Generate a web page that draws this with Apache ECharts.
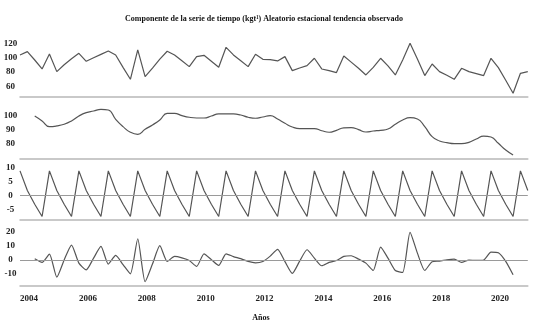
<!DOCTYPE html>
<html>
<head>
<meta charset="utf-8">
<script src="https://cdn.jsdelivr.net/npm/echarts@6/dist/echarts.min.js"></script>
<style>
html,body{margin:0;padding:0;background:#fff;}
#c{width:547px;height:322px;}
</style>
</head>
<body>
<div id="c"></div>
<script>
const startYear = 2004;
const yearTicks = [2004, 2006, 2008, 2010, 2012, 2014, 2016, 2018, 2020];
const observed = [103.8,108.4,96.8,84.4,105.2,80.7,90.2,98.5,106.1,95.0,99.9,104.6,109.3,103.8,86.6,70.1,110.7,73.8,85.7,98.1,108.9,103.8,95.7,87.6,101.5,103.3,95.0,86.7,114.4,103.8,95.7,87.6,104.7,97.8,97.3,95.5,101.5,82.1,85.8,89.0,99.2,84.4,82.1,79.4,102.4,93.9,85.4,76.1,86.7,99.2,88.6,76.1,96.9,119.9,98.1,75.2,91.3,80.7,75.7,70.1,85.3,80.7,78.0,75.2,99.2,86.3,68.7,50.8,78.4,80.7];
const trend = [null,null,99.5,96.0,91.9,92.4,93.6,96.0,99.5,101.9,103.1,104.3,103.8,97.1,91.9,87.9,86.4,90.0,93.1,96.7,101.4,101.4,99.8,98.6,98.1,98.1,99.5,101.0,101.0,101.0,100.2,98.6,97.9,98.8,99.8,97.4,94.3,91.7,90.5,90.5,90.5,89.0,87.9,89.3,91.0,91.2,89.8,88.1,88.8,89.3,90.2,93.6,96.7,98.3,97.4,91.9,84.8,81.7,80.5,79.8,79.8,80.7,83.1,85.2,84.5,80.0,75.2,71.7,null,null];
const seasonal = [8.8,1.8,-3.1,-7.5,8.8,1.8,-3.1,-7.5,8.8,1.8,-3.1,-7.5,8.8,1.8,-3.1,-7.5,8.8,1.8,-3.1,-7.5,8.8,1.8,-3.1,-7.5,8.8,1.8,-3.1,-7.5,8.8,1.8,-3.1,-7.5,8.8,1.8,-3.1,-7.5,8.8,1.8,-3.1,-7.5,8.8,1.8,-3.1,-7.5,8.8,1.8,-3.1,-7.5,8.8,1.8,-3.1,-7.5,8.8,1.8,-3.1,-7.5,8.8,1.8,-3.1,-7.5,8.8,1.8,-3.1,-7.5,8.8,1.8,-3.1,-7.5,8.8,1.8];
const random = [null,null,0.7,-1.9,4.1,-12.5,-0.1,10.6,-2.4,-7.2,1.2,9.6,-3.1,3.1,-3.5,-10.1,15.1,-15.8,-3.1,10.1,-1.2,2.4,1.4,-0.5,-4.8,4.3,0.1,-4.1,4.3,2.3,0.8,-1.2,-2.2,-1.2,2.6,7.5,-1.3,-9.8,-1.0,7.2,1.2,-4.3,-1.9,-0.5,2.4,2.9,0.5,-2.4,-7.7,9.1,1.2,-7.7,-9.1,19.7,4.8,-7.7,-1.4,-1.0,0.0,0.5,-1.9,-0.2,-0.5,-0.2,5.5,5.0,-1.2,-10.8,null,null];
const ticks1 = [60, 80, 100, 120];
const ticks2 = [80, 90, 100];
const ticks3 = [-5, 0, 5, 10];
const ticks4 = [-10, 0, 10, 20];
const titleText = 'Componente de la serie de tiempo (kgt\u00B9) Aleatorio estacional tendencia observado';
const xName = 'Años';

const toXY = arr => arr.map((v, i) => [startYear + i / 4, v]);
const font = 'Liberation Serif';
const lineColor = '#555';
const axisGray = '#b8b8b8';

const grids = [
  {top: 28.8, height: 67.9},
  {top: 96.7, height: 61.6},
  {top: 158.3, height: 61.0},
  {top: 219.3, height: 66.2}
].map(g => ({left: 20, width: 507.8, top: g.top, height: g.height}));

const yRanges = [[46, 140], [69.3, 113.3], [-8.5, 13.3], [-18.5, 29.1]];
const yTicks = [ticks1, ticks2, ticks3, ticks4];

const xAxes = grids.map((g, k) => ({
  type: 'value', gridIndex: k, min: startYear, max: startYear + 69 / 4,
  axisLine: {show: true, onZero: false, lineStyle: {color: axisGray, width: 1.5}},
  axisTick: {show: false}, splitLine: {show: false},
  axisLabel: k === 3 ? {
    show: true, customValues: yearTicks, formatter: v => String(v), align: 'left',
    fontFamily: font, fontWeight: 'bold', fontSize: 9, color: '#222', margin: 9
  } : {show: false}
}));

const yAxes = grids.map((g, k) => ({
  type: 'value', gridIndex: k, min: yRanges[k][0], max: yRanges[k][1],
  axisLine: {show: false}, axisTick: {show: false}, splitLine: {show: false},
  axisLabel: {show: true, customValues: yTicks[k], formatter: v => String(v), align: 'center',
    fontFamily: font, fontWeight: 'bold', fontSize: 9, color: '#222', margin: 9.5}
}));

const zeroLine = {silent: true, symbol: 'none', label: {show: false},
  lineStyle: {color: '#9a9a9a', width: 1, type: 'solid'}, data: [{yAxis: 0}]};

const mk = (data, k, smooth, extra) => Object.assign({
  type: 'line', xAxisIndex: k, yAxisIndex: k, data: toXY(data), showSymbol: false,
  smooth: smooth, connectNulls: false, lineStyle: {color: lineColor, width: 1.2},
  itemStyle: {color: lineColor}, animation: false
}, extra || {});

const chart = echarts.init(document.getElementById('c'), null, {renderer: 'canvas'});
chart.setOption({
  backgroundColor: '#fff',
  animation: false,
  title: [
    {text: titleText, left: 259, top: 10, textAlign: 'center',
      textStyle: {fontFamily: font, fontWeight: 'bold', fontSize: 8, color: '#111'}},
    {text: xName, left: 256, top: 309, textAlign: 'center',
      textStyle: {fontFamily: font, fontWeight: 'bold', fontSize: 8, color: '#111'}}
  ],
  grid: grids,
  xAxis: xAxes,
  yAxis: yAxes,
  series: [
    mk(observed, 0, false),
    mk(trend, 1, 0.5),
    mk(seasonal, 2, false, {markLine: zeroLine}),
    mk(random, 3, 0.2, {markLine: zeroLine})
  ]
});
</script>
</body>
</html>
